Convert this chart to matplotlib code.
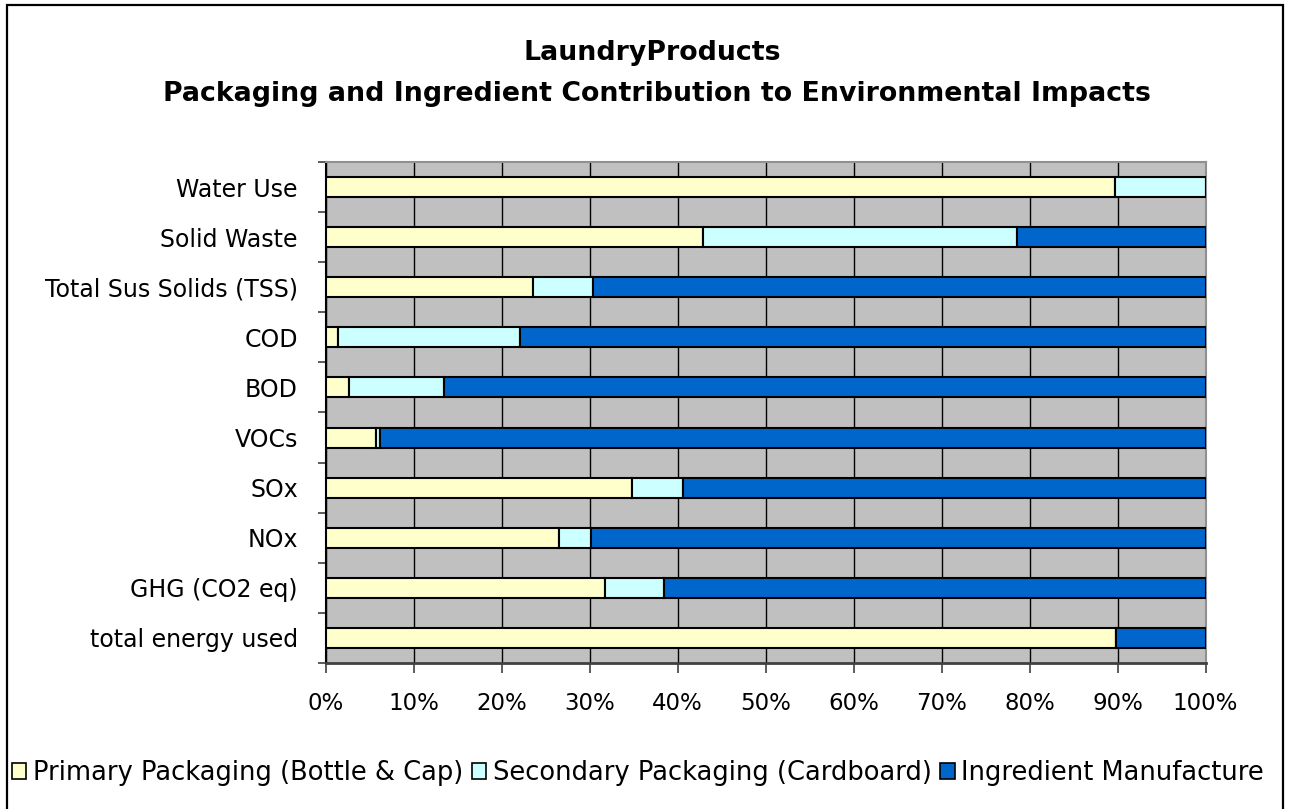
import matplotlib
matplotlib.use("Agg")
import matplotlib.pyplot as plt
from matplotlib.patches import Patch, Rectangle

plt.rcParams['font.family'] = ['DejaVu Sans']

# Impact categories, listed top to bottom as shown on the chart
categories = [
    "Water Use",
    "Solid Waste",
    "Total Sus Solids (TSS)",
    "COD",
    "BOD",
    "VOCs",
    "SOx",
    "NOx",
    "GHG (CO2 eq)",
    "total energy used",
]

# Share of each impact (%) by life-cycle stage
primary_pkg = [89.7, 42.9, 23.6, 1.4, 2.7, 5.7, 34.8, 26.5, 31.8, 89.8]
secondary_pkg = [10.3, 35.7, 6.8, 20.7, 10.7, 0.5, 5.8, 3.6, 6.6, 0.0]
ingredients = [0.0, 21.4, 69.6, 77.9, 86.6, 93.8, 59.4, 69.9, 61.6, 10.2]

series_names = [
    "Primary Packaging (Bottle & Cap)",
    "Secondary Packaging (Cardboard)",
    "Ingredient Manufacture",
]
series_colors = ["#FFFFCC", "#CCFFFF", "#0066CC"]

x_ticks = [0, 10, 20, 30, 40, 50, 60, 70, 80, 90, 100]
x_tick_labels = [f"{t}%" for t in x_ticks]

W, H = 1290, 809
fig = plt.figure(figsize=(W / 100, H / 100), dpi=100)

# outer chart frame
fig.patches.append(Rectangle((7 / W, -0.05), (1283 - 7) / W, 1.05 - 5 / H,
                             transform=fig.transFigure, fill=False,
                             edgecolor="black", linewidth=1.6, zorder=0))

left, right, top, bottom = 325.7, 1205.5, 162, 663
ax = fig.add_axes([left / W, 1 - bottom / H, (right - left) / W, (bottom - top) / H])
ax.set_facecolor("#C0C0C0")

n = len(categories)
ypos = [n - 1 - i for i in range(n)]

acc = [0.0] * n
for vals, color, name in zip([primary_pkg, secondary_pkg, ingredients], series_colors, series_names):
    ax.barh(ypos, vals, left=acc, height=0.4, color=color, edgecolor="black",
            linewidth=1.5, label=name, zorder=3)
    acc = [a + v for a, v in zip(acc, vals)]

ax.set_xlim(0, 100)
ax.set_ylim(-0.5, n - 0.5)

ax.set_xticks(x_ticks)
ax.set_xticklabels(x_tick_labels, fontsize=16.5)
ax.set_yticks(ypos)
ax.set_yticklabels(categories, fontsize=17)
ax.set_yticks([i - 0.5 for i in range(n + 1)], minor=True)

ax.tick_params(axis="y", which="major", length=0, pad=20)
ax.tick_params(axis="y", which="minor", length=6, width=1.2, color="#404040", direction="out")
ax.tick_params(axis="x", which="major", length=7, width=1.2, color="#404040", pad=14)

ax.grid(axis="x", color="black", linewidth=1.0, zorder=1)
ax.set_axisbelow(True)

ax.spines["left"].set_color("black")
ax.spines["left"].set_linewidth(1.5)
ax.spines["bottom"].set_color("#404040")
ax.spines["bottom"].set_linewidth(2)
ax.spines["top"].set_color("#909090")
ax.spines["top"].set_linewidth(1.5)
ax.spines["right"].set_color("#909090")
ax.spines["right"].set_linewidth(1.5)

fig.text(652 / W, 1 - 53 / H, "LaundryProducts", ha="center", va="center",
         fontsize=19.3, fontweight="bold")
fig.text(657 / W, 1 - 94 / H, "Packaging and Ingredient Contribution to Environmental Impacts",
         ha="center", va="center", fontsize=19.3, fontweight="bold")

handles = [Patch(facecolor=c, edgecolor="black", linewidth=1.2) for c in series_colors]
fig.legend(handles, series_names, loc="center", bbox_to_anchor=(638 / W, 1 - 773 / H),
           ncol=3, frameon=False, fontsize=18.5, handlelength=0.55, handleheight=0.55,
           handletextpad=0.25, columnspacing=0.35, borderaxespad=0)

fig.savefig("out.png", dpi=100)
